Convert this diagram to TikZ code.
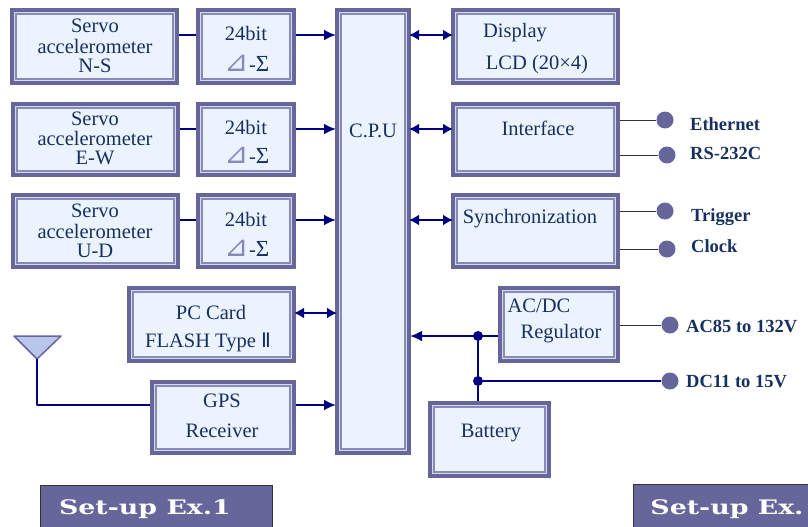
\documentclass[tikz,border=0pt]{standalone}
\usepackage{fontspec}
\setmainfont{Liberation Serif}
\newfontfamily\symfont{DejaVu Sans}
\newfontfamily\legfont[FakeStretch=1.34]{DejaVu Serif}
\usetikzlibrary{arrows.meta}
\definecolor{frame}{HTML}{66669A}
\definecolor{band}{HTML}{D4D9EC}
\definecolor{inner}{HTML}{8A8AB8}
\definecolor{boxfill}{HTML}{EBF3FE}
\definecolor{navy}{HTML}{000080}
\definecolor{ink}{HTML}{17305F}
\definecolor{ant}{HTML}{B9C5EA}
\tikzset{
  box/.style={draw=frame,fill=band,line width=4pt,inner sep=0pt},
  innerbox/.style={draw=inner,fill=boxfill,line width=1.2pt},
  txt/.style={font=\fontsize{20.5}{21}\selectfont,text=ink,inner sep=0pt},
  lab/.style={font=\fontsize{18.5}{20}\selectfont\bfseries,text=ink,inner sep=0pt,anchor=west},
  sig/.style={draw=navy,line width=2.4pt},
  sigarrow/.style={sig,-{Latex[length=12pt,width=11pt]},shorten >=-1pt},
  bus/.style={sig,{Latex[length=10pt,width=11pt]}-{Latex[length=10pt,width=11pt]},shorten >=-2pt,shorten <=-2pt},
  thin/.style={draw=black!80,line width=1pt},
  port/.style={circle,fill=frame,minimum size=17pt,inner sep=0pt},
  joint/.style={circle,fill=navy,minimum size=10pt,inner sep=0pt},
  legend/.style={draw=black!80,fill=frame,line width=1pt,inner sep=0pt},
  legtext/.style={font=\fontsize{20}{20}\selectfont\legfont\bfseries,text=white,inner sep=0pt}
}
\newcommand{\fbx}[5]{%
  \node[box,minimum width={(#4-#2-4)*1pt},minimum height={(#5-#3-4)*1pt}] (#1) at ({(#2+#4)/2},{(#3+#5)/2}) {};
  \draw[innerbox] ([xshift=6pt,yshift=-6pt]#1.north west) rectangle ([xshift=-6pt,yshift=6pt]#1.south east);
}
\newcommand{\dsig}{{\symfont\fontsize{29}{27}\selectfont\textcolor{inner}{⊿}}-{\fontsize{23}{23}\selectfont Σ}}
\begin{document}
\begin{tikzpicture}[x=1pt,y=-1pt]
\useasboundingbox (0,0) rectangle (808,527);
\clip (0,0) rectangle (808,527);
% blocks
\fbx{sa}{10}{8}{179}{85}
\fbx{aa}{196}{8}{296}{85}
\fbx{sb}{11}{102}{180}{177}
\fbx{ab}{196}{102}{296}{177}
\fbx{sc}{11}{193}{180}{269}
\fbx{ac}{196}{193}{296}{269}
\fbx{cpu}{335}{8}{411}{455}
\fbx{disp}{451}{8}{620}{85}
\fbx{intf}{451}{102}{620}{177}
\fbx{sync}{451}{193}{620}{269}
\fbx{pc}{127}{286}{296}{363}
\fbx{gps}{150}{380}{296}{455}
\fbx{reg}{498}{286}{620}{363}
\fbx{bat}{428}{401}{551}{478}
% texts
\node[txt] (t1) at (95,26) {Servo};
\node[txt] (t2) at (95,46) {accelerometer};
\node[txt] (t3) at (95,66) {N-S};
\node[txt] (t4) at (95,119) {Servo};
\node[txt] (t5) at (95,138) {accelerometer};
\node[txt] (t6) at (95,158) {E-W};
\node[txt] (t7) at (95,211) {Servo};
\node[txt] (t8) at (95,231) {accelerometer};
\node[txt] (t9) at (95,251) {U-D};
\node[txt] (b1) at (246,33) {24bit};
\node[txt] (d1) at (247,63.5) {\dsig};
\node[txt] (b2) at (246,127) {24bit};
\node[txt] (d2) at (247,155.5) {\dsig};
\node[txt] (b3) at (246,219) {24bit};
\node[txt] (d3) at (247,248.5) {\dsig};
\node[txt] (cpul) at (373,131) {C.P.U};
\node[txt] (dl) at (515,33) {Display};
\node[txt] (ll) at (537,65) {LCD (20×4)};
\node[txt] (il) at (538,128) {Interface};
\node[txt] (syl) at (530,219) {Synchronization};
\node[txt] (pl1) at (211,312) {PC Card};
\node[txt] (pl2) at (208,342) {FLASH Type {\symfont\fontsize{20}{20}\selectfont Ⅱ}};
\node[txt] (gl1) at (222,401) {GPS};
\node[txt] (gl2) at (222,431) {Receiver};
\node[txt] (rl1) at (539,306) {AC/DC};
\node[txt] (rl2) at (561,334) {Regulator};
\node[txt] (bl) at (491,433) {Battery};
% sensor chains
\draw[sig] (sa.east |- 0,35) -- (aa.west |- 0,35);
\draw[sigarrow] (aa.east |- 0,35) -- (cpu.west |- 0,35);
\draw[sig] (sb.east |- 0,129) -- (ab.west |- 0,129);
\draw[sigarrow] (ab.east |- 0,129) -- (cpu.west |- 0,129);
\draw[sig] (sc.east |- 0,220) -- (ac.west |- 0,220);
\draw[sigarrow] (ac.east |- 0,220) -- (cpu.west |- 0,220);
% buses
\draw[bus] (cpu.east |- 0,35) -- (disp.west |- 0,35);
\draw[bus] (cpu.east |- 0,129) -- (intf.west |- 0,129);
\draw[bus] (cpu.east |- 0,220) -- (sync.west |- 0,220);
\draw[bus] (pc.east |- 0,313) -- (cpu.west |- 0,313);
% antenna and GPS
\coordinate (tip) at (37,359);
\draw[draw=frame,fill=ant,line width=1.5pt,line join=round] (14,336) -- (61,336) -- (tip) -- cycle;
\draw[sig,line join=round] (tip) -- (37,405) -- (gps.west |- 0,405);
\draw[sigarrow] (gps.east |- 0,405) -- (cpu.west |- 0,405);
% power
\node[joint] (ja) at (478,336) {};
\node[joint] (jb) at (478,381) {};
\draw[sigarrow] (reg.west |- ja) -- (cpu.east |- ja);
\draw[sig] (ja) -- (jb) -- (jb |- bat.north);
% ports
\node[port] (pe) at (665,120) {};
\node[port] (pr) at (667,155) {};
\node[port] (pt) at (665,211) {};
\node[port] (pk) at (667,249) {};
\node[port] (pa) at (670,325) {};
\node[port] (pd) at (670,381) {};
\draw[thin] (intf.east |- pe) -- (pe);
\draw[thin] (intf.east |- pr) -- (pr);
\draw[thin] (sync.east |- pt) -- (pt);
\draw[thin] (sync.east |- pk) -- (pk);
\draw[thin] (reg.east |- pa) -- (pa);
\draw[sig] (jb) -- (pd);
\node[lab] (le) at (690,124) {Ethernet};
\node[lab] (lr) at (690,153) {RS-232C};
\node[lab] (lt) at (691,217) {Trigger};
\node[lab] (lk) at (691,246) {Clock};
\node[lab] (la) at (686,326) {AC85 to 132V};
\node[lab] (ld) at (686,382) {DC11 to 15V};
% legends
\node[legend,minimum width=232pt,minimum height=60pt] (lega) at (156,515) {};
\node[legtext] (legat) at (145,509) {Set-up Ex.1};
\node[legend,minimum width=200pt,minimum height=60pt] (legb) at (733,514) {};
\node[legtext] (legbt) at (727,509) {Set-up Ex.};
\end{tikzpicture}
\end{document}
